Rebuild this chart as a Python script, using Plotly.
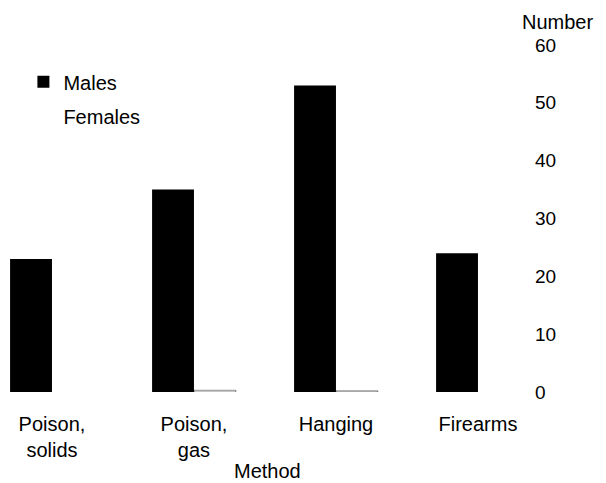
import plotly.graph_objects as go

methods = ["Poison,<br>solids", "Poison,<br>gas", "Hanging", "Firearms"]
males = [23, 35, 53, 24]
females = [0, 0.3, 0.2, 0]
y_ticks = [0, 10, 20, 30, 40, 50, 60]

FONT = "Liberation Sans, Arial, sans-serif"

fig = go.Figure()
fig.add_trace(go.Bar(name="Males", x=methods, y=males, legendgroup="m",
                     offsetgroup="m",
                     marker=dict(color="black", line=dict(width=0))))
fig.add_trace(go.Bar(name="Females", x=methods, y=females, legendgroup="f",
                     offsetgroup="f", showlegend=False,
                     marker=dict(color="white",
                                 line=dict(color="rgba(0,0,0,0.45)", width=[0, 1, 1, 0]))))
# legend entry for Females (no visible swatch, as in the reference)
fig.add_trace(go.Bar(name="Females", x=[methods[0]], y=[None], legendgroup="f",
                     offsetgroup="f",
                     marker=dict(color="white", line=dict(width=0)),
                     showlegend=True, hoverinfo="skip"))

fig.update_layout(
    width=606, height=483,
    barmode="group", bargap=0.41, bargroupgap=0,
    plot_bgcolor="white", paper_bgcolor="white",
    margin=dict(l=0, r=86, t=45, b=91),
    font=dict(family=FONT, size=20, color="black"),
    showlegend=True,
    legend=dict(x=0.045, y=0.95, xanchor="left", yanchor="top",
                bgcolor="rgba(0,0,0,0)", font=dict(size=20),
                itemsizing="constant", tracegroupgap=5),
    xaxis=dict(range=[-0.366, 3.296], showline=False, showgrid=False,
               ticks="", tickfont=dict(size=20), zeroline=False,
               ticklabelstandoff=18),
    yaxis=dict(side="right", range=[0, 60], tickvals=y_ticks,
               showgrid=False, zeroline=False, showline=False, ticks="",
               tickfont=dict(size=19), ticklabelstandoff=14),
    annotations=[
        dict(text="Number", x=1.0, xref="paper", y=1.0, yref="paper",
             xanchor="left", yanchor="bottom", showarrow=False, xshift=0, yshift=10,
             font=dict(size=20)),
        dict(text="Method", x=0.515, xref="paper", y=0, yref="paper",
             xanchor="center", yanchor="top", showarrow=False, yshift=-66,
             font=dict(size=20)),
    ],
)

fig.write_html("out.html", config={"displayModeBar": False},
               post_script="document.body.style.margin='0';document.body.style.padding='0';")
